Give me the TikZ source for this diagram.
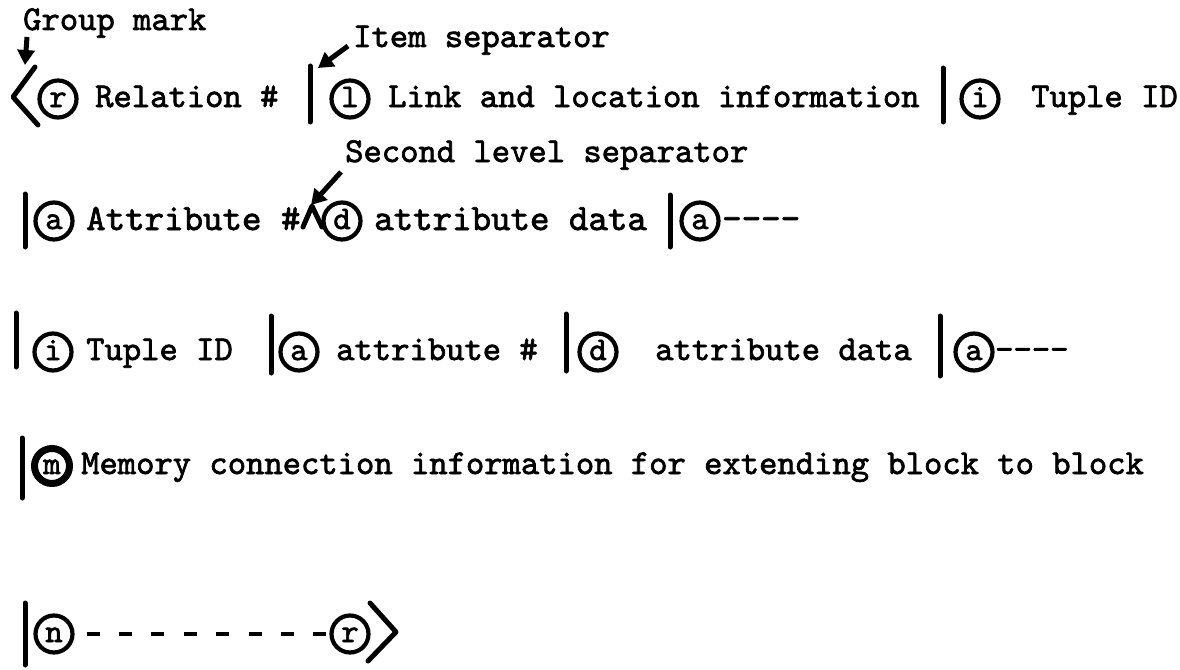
\documentclass[tikz,border=0pt]{standalone}
\usepackage{fontspec}
\newfontfamily\tw{lmmono10-regular.otf}[FakeBold=2]
\usetikzlibrary{arrows.meta}
\begin{document}
\begin{tikzpicture}[x=1pt,y=-1pt,
  txt/.style={anchor=base west, inner sep=0pt, font=\tw\fontsize{34.9}{35}\selectfont},
  wide/.style={font=\tw\fontsize{37.1}{37}\selectfont},
  circ/.style={circle, draw, line width=4.2pt, minimum size=37pt, inner sep=0pt,
    text height=16pt, text depth=0pt, font=\tw\fontsize{33}{33}\selectfont},
  heavycirc/.style={circ, line width=7pt, minimum size=35pt},
  sepbar/.style={line width=5pt, line cap=round},
  bracket/.style={line width=5pt, line cap=round, line join=round},
  pointer/.style={line width=5pt, -{Triangle[width=17pt,length=15pt]}},
  dashline/.style={line width=4.5pt, dash pattern=on 13pt off 19.4pt},
]
\useasboundingbox (0,0) rectangle (1180,669);

% ---------- annotations ----------
\node[txt] (gmlabel) at (23,30) {Group mark};
\node[txt] (islabel) at (353,47) {Item separator};
\node[txt] (sllabel) at (345,162) {Second level separator};
\coordinate (gmtail) at (27,37);
\coordinate (gmhead) at (25,65);
\coordinate (istail) at (348,46);
\coordinate (ishead) at (318,68);
\coordinate (sltail) at (341,172);
\coordinate (slhead) at (311,205);
\draw[pointer] (gmtail) -- (gmhead);
\draw[pointer] (istail) -- (ishead);
\draw[pointer] (sltail) -- (slhead);

% ---------- row 1 ----------
\coordinate (gA) at (35,67);
\coordinate (gB) at (13,97);
\coordinate (gC) at (38,125);
\draw[bracket] (gA) -- (gB) -- (gC);
\node[circ] (r1) at (58,99) {r};
\node[txt] (rel) at (95,107) {Relation \#};
\coordinate (b1t) at (310,66);
\coordinate (b1b) at (310,122);
\draw[sepbar] (b1t) -- (b1b);
\node[circ] (l1) at (350,99) {l};
\node[txt] (link) at (388,107) {Link and location information};
\coordinate (b2t) at (943,68);
\coordinate (b2b) at (943,122);
\draw[sepbar] (b2t) -- (b2b);
\node[circ] (i1) at (980,99) {i};
\node[txt] (tid1) at (1031,107) {Tuple ID};

% ---------- row 2 ----------
\coordinate (b3t) at (25,194);
\coordinate (b3b) at (25,247);
\draw[sepbar] (b3t) -- (b3b);
\node[circ] (a2) at (54,221) {a};
\node[txt,wide] (attr2) at (86,230) {Attribute \#};
\coordinate (wA) at (303,227);
\coordinate (wB) at (312,206);
\coordinate (wC) at (322,227);
\draw[bracket] (wA) -- (wB) -- (wC);
\node[circ] (d2) at (342,221) {d};
\node[txt,wide] (data2) at (374,230) {attribute data};
\coordinate (b4t) at (670,195);
\coordinate (b4b) at (670,247);
\draw[sepbar] (b4t) -- (b4b);
\node[circ] (a2b) at (700,221) {a};
\node[txt,wide] (dash2) at (722,230) {----};

% ---------- row 3 ----------
\coordinate (b5t) at (16,313);
\coordinate (b5b) at (16,367);
\draw[sepbar] (b5t) -- (b5b);
\node[circ] (i3) at (53,352) {i};
\node[txt] (tid3) at (86,360) {Tuple ID};
\coordinate (b6t) at (271,316);
\coordinate (b6b) at (271,373);
\draw[sepbar] (b6t) -- (b6b);
\node[circ] (a3) at (299,352) {a};
\node[txt] (attr3) at (336,360) {attribute \#};
\coordinate (b7t) at (566,314);
\coordinate (b7b) at (566,371);
\draw[sepbar] (b7t) -- (b7b);
\node[circ] (d3) at (598,352) {d};
\node[txt] (data3) at (655,360) {attribute data};
\coordinate (b8t) at (940,316);
\coordinate (b8b) at (940,376);
\draw[sepbar] (b8t) -- (b8b);
\node[circ] (a3b) at (974,352) {a};
\node[txt] (dash3) at (995,360) {----};

% ---------- row 4 ----------
\coordinate (b9t) at (22,438);
\coordinate (b9b) at (22,498);
\draw[sepbar] (b9t) -- (b9b);
\node[heavycirc] (m4) at (52,466) {m};
\node[txt] (mem) at (81,474) {Memory connection information for extending block to block};

% ---------- row 5 ----------
\coordinate (b10t) at (25,603);
\coordinate (b10b) at (25,665);
\draw[sepbar] (b10t) -- (b10b);
\node[circ] (n5) at (54,634) {n};
\node[circ] (r5) at (350,634) {r};
\draw[dashline] ([xshift=12pt]n5.east) -- ([xshift=-2pt]r5.west);
\coordinate (eA) at (370,603);
\coordinate (eB) at (396,632);
\coordinate (eC) at (368,661);
\draw[bracket] (eA) -- (eB) -- (eC);
\end{tikzpicture}
\end{document}
